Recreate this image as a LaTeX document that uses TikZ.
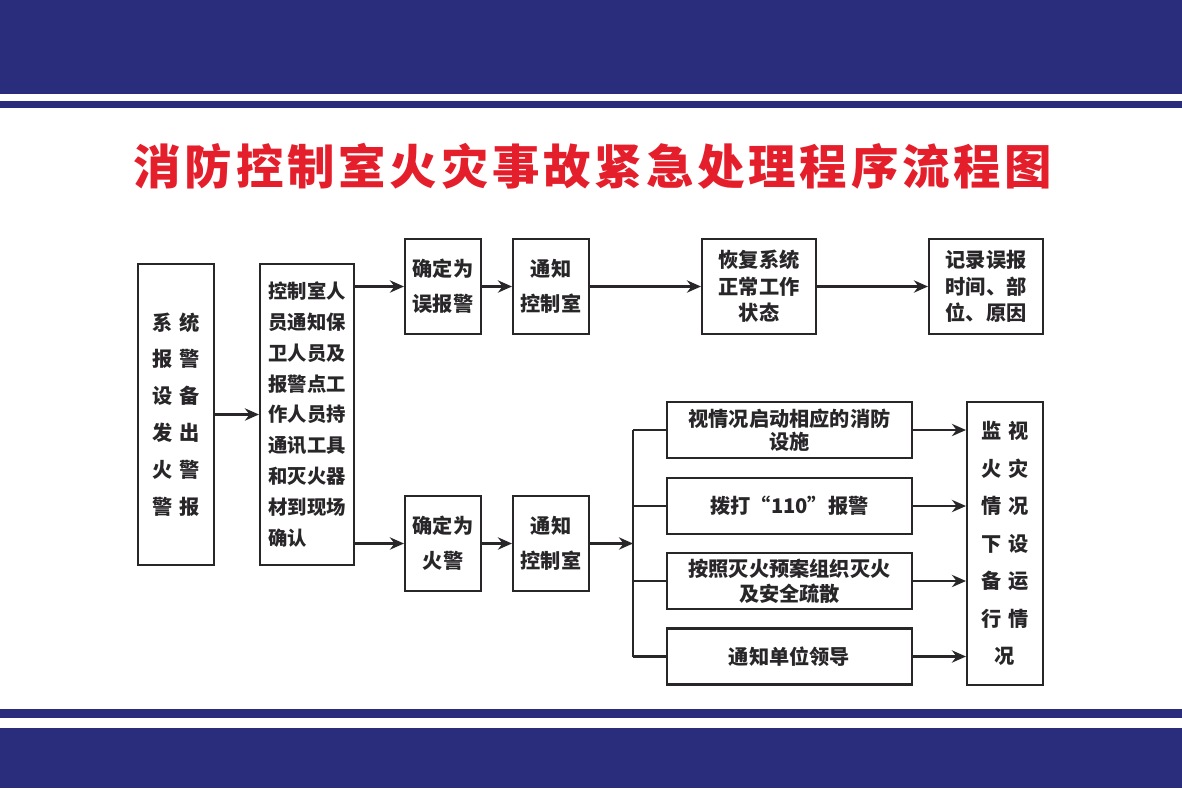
\documentclass[tikz,border=0pt]{standalone}
\usepackage{fontspec}
\usepackage{xcolor}
\usetikzlibrary{arrows, arrows.meta}
\usetikzlibrary{positioning}
\usetikzlibrary{calc}
\newfontfamily\cjk{Noto Sans CJK SC}
\newfontfamily\cjktitle[LetterSpace=8]{Noto Sans CJK SC}
\definecolor{bandblue}{RGB}{42,45,124}
\definecolor{titlered}{RGB}{228,30,42}
\definecolor{linegray}{RGB}{40,38,40}
\newcommand{\gap}{\hspace{4pt}}

\tikzset{
  box/.style={draw=linegray, line width=1.2pt, align=center, inner sep=0pt,
    text=linegray, font=\cjk\bfseries\fontsize{11.5}{15}\selectfont},
  arr/.style={draw=linegray, line width=1.2pt, -{Stealth[length=8pt,width=7pt]}},
  bus/.style={draw=linegray, line width=1.2pt}
}

\begin{document}
\begin{tikzpicture}[x=0.02cm,y=-0.02cm]
				\useasboundingbox (0,0) rectangle (1182,788);
				% draw bands
				\fill[bandblue] (0,0) rectangle (1182,94);
				\fill[bandblue] (0,101) rectangle (1182,108);
				\fill[bandblue] (0,709) rectangle (1182,718);
				\fill[bandblue] (0,728) rectangle (1182,788);
				% title
				\node[text=titlered, font=\cjktitle\bfseries\fontsize{27}{30}\selectfont] (title) at (593,166) {消防控制室火灾事故紧急处理程序流程图};
				
				% draw boxes
				\node[box, minimum width=1.52cm, minimum height=6.02cm, font=\cjk\bfseries\fontsize{11.5}{21}\selectfont] (alarm) at (176,414.5)
					{系\gap 统\\报\gap 警\\设\gap 备\\发\gap 出\\火\gap 警\\警\gap 报};
				\node[box, align=left, minimum width=1.88cm, minimum height=6.02cm, font=\cjk\bfseries\fontsize{11}{17.6}\selectfont] (check) at (307,414.5)
					{控制室人\\员通知保\\卫人员及\\报警点工\\作人员持\\通讯工具\\和灭火器\\材到现场\\确认};
				\node[box, minimum width=1.52cm, minimum height=1.9cm, font=\cjk\bfseries\fontsize{11.5}{20}\selectfont] (false) at (443,286.5) {确定为\\误报警};
				\node[box, minimum width=1.52cm, minimum height=1.9cm, font=\cjk\bfseries\fontsize{11.5}{20}\selectfont] (notifya) at (551,286.5) {通知\\控制室};
				\node[box, minimum width=2.28cm, minimum height=1.9cm] (restore) at (759,286.5) {恢复系统\\正常工作\\状态};
				\node[box, minimum width=2.28cm, minimum height=1.9cm] (record) at (986,286.5) {记录误报\\时间、部\\位、原因};
				\node[box, minimum width=1.52cm, minimum height=1.9cm, font=\cjk\bfseries\fontsize{11.5}{20}\selectfont] (fire) at (443,543.5) {确定为\\火警};
				\node[box, minimum width=1.52cm, minimum height=1.9cm, font=\cjk\bfseries\fontsize{11.5}{20}\selectfont] (notifyb) at (551,543.5) {通知\\控制室};
				\node[box, minimum width=4.9cm, minimum height=1.12cm, font=\cjk\bfseries\fontsize{11.5}{13}\selectfont] (acta) at (789.5,430) {视情况启动相应的消防\\设施};
				\node[box, minimum width=4.9cm, minimum height=1.12cm] (actb) at (789.5,506) {拨打“110”报警};
				\node[box, minimum width=4.9cm, minimum height=1.12cm, font=\cjk\bfseries\fontsize{11.5}{14}\selectfont] (actc) at (789.5,581) {按照灭火预案组织灭火\\及安全疏散};
				\node[box, minimum width=4.9cm, minimum height=1.12cm] (actd) at (789.5,656.5) {通知单位领导};
				\node[box, minimum width=1.52cm, minimum height=5.66cm, font=\cjk\bfseries\fontsize{11.5}{21.3}\selectfont] (monitor) at (1005,543.5)
					{监\gap 视\\火\gap 灾\\情\gap 况\\下\gap 设\\备\gap 运\\行\gap 情\\况};
				\coordinate (split) at (633,543.5);
				
				% draw arrows
				\draw[arr] (alarm) -- (check);
				\draw[arr] (false.west -| check.east) -- (false.west);
				\draw[arr] (fire.west -| check.east) -- (fire.west);
				\draw[arr] (false) -- (notifya);
				\draw[arr] (notifya) -- (restore);
				\draw[arr] (restore) -- (record);
				\draw[arr] (fire) -- (notifyb);
				\draw[arr] (notifyb) -- (split);
				\draw[bus] (split |- acta) -- (split |- actd);
				\foreach \a in {acta,actb,actc,actd}{
					\draw[bus] (split |- \a) -- (\a.west);
					\draw[arr] (\a.east) -- (\a -| monitor.west);
				}
			\end{tikzpicture}
\end{document}
